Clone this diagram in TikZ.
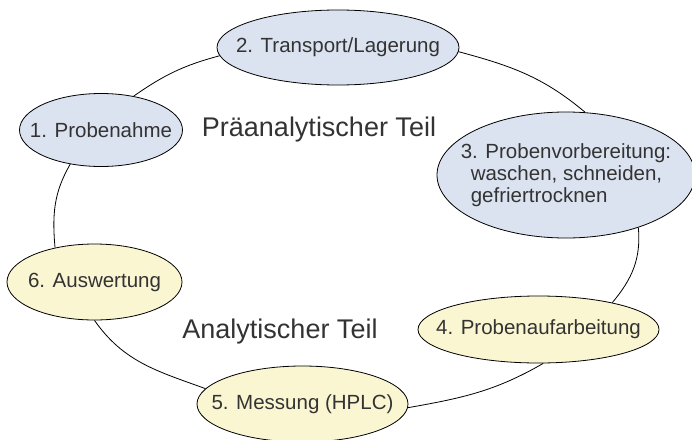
\documentclass[tikz,border=0pt]{standalone}
\usepackage{fontspec}
\setmainfont{Liberation Sans}
\usepackage{xcolor}
\usepackage{tikz}
\usetikzlibrary{shapes.geometric}
\definecolor{ink}{HTML}{333333}
\definecolor{preblue}{HTML}{DCE3F0}
\definecolor{anayellow}{HTML}{FAF6D2}
\tikzset{
  stage/.style={ellipse, draw=black, line width=0.8pt, inner sep=0pt, inner xsep=-30pt, text=ink, font=\fontsize{20.5}{22}\selectfont},
  prestage/.style={stage, fill=preblue},
  anastage/.style={stage, fill=anayellow},
  phase/.style={text=ink, font=\fontsize{27}{30}\selectfont},
  link/.style={line width=0.8pt, draw=black},
}
\begin{document}
\begin{tikzpicture}[x=1pt, y=1pt]
  \useasboundingbox (0,0) rectangle (692,-439);
  % six steps around the cycle
  \node[prestage, minimum width=163pt, minimum height=73pt] (probenahme) at (101,-130) {1. Probenahme};
  \node[prestage, minimum width=242pt, minimum height=75pt] (transport) at (338,-47.5) {2. Transport/Lagerung};
  \node[prestage, minimum width=258pt, minimum height=126pt, inner xsep=-20pt, align=left] (vorbereitung) at (566,-175)
    {3. Probenvorbereitung:\\\hspace{10pt}waschen, schneiden,\\\hspace{10pt}gefriertrocknen};
  \node[anastage, minimum width=241pt, minimum height=67pt] (aufarbeitung) at (538.5,-329.5) {4. Probenaufarbeitung};
  \node[anastage, minimum width=211pt, minimum height=76pt] (messung) at (302.5,-404) {5. Messung (HPLC)};
  \node[anastage, minimum width=175pt, minimum height=76pt] (auswertung) at (94.5,-282) {6. Auswertung};
  % phase labels
  \node[phase] (praeanalytik) at (319,-130) {Präanalytischer Teil};
  \node[phase] (analytik) at (280,-332) {Analytischer Teil};
  % the ring
  \draw[link] (probenahme.46) to[out=35, in=195] (transport.184);
  \draw[link] (transport.-2) to[out=-15, in=140] (vorbereitung.73);
  \draw[link] (vorbereitung.-36) to[out=-85, in=50] (aufarbeitung.20);
  \draw[link] (aufarbeitung.-82) to[out=-150, in=10] (messung.-2);
  \draw[link] (messung.171) to[out=160, in=-55] (auswertung.270);
  \draw[link] (auswertung.139) to[out=95, in=-120] (probenahme.228);
\end{tikzpicture}
\end{document}
